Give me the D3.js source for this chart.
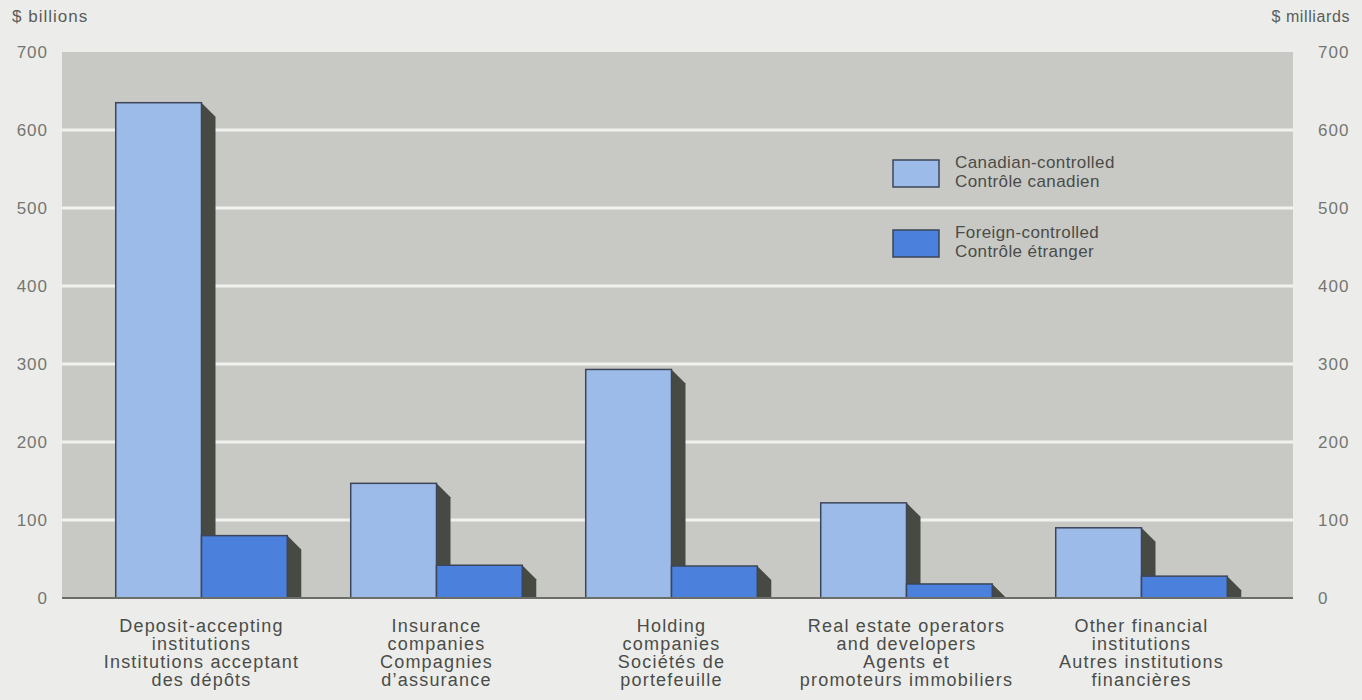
<!DOCTYPE html>
<html>
<head>
<meta charset="utf-8">
<script src="https://cdn.jsdelivr.net/npm/d3@7/dist/d3.min.js"></script>
<style>
  html, body { margin: 0; padding: 0; background: #ecedea; }
  svg { display: block; font-family: "Liberation Sans", Arial, sans-serif; }
</style>
</head>
<body>
<svg id="chart" width="1362" height="700"></svg>
<script>
// Assets by industry group, $ billions
const categories = [
  ["Deposit-accepting", "institutions", "Institutions acceptant", "des dépôts"],
  ["Insurance", "companies", "Compagnies", "d’assurance"],
  ["Holding", "companies", "Sociétés de", "portefeuille"],
  ["Real estate operators", "and developers", "Agents et", "promoteurs immobiliers"],
  ["Other financial", "institutions", "Autres institutions", "financières"]
];
const canadianControlled = [635, 147, 293, 122, 90];
const foreignControlled = [80, 42, 41, 18, 28];
const seriesNames = [
  ["Canadian-controlled", "Contrôle canadien"],
  ["Foreign-controlled", "Contrôle étranger"]
];
const yTicks = [0, 100, 200, 300, 400, 500, 600, 700];

const svg = d3.select("#chart");
const plot = { left: 62, right: 1293, top: 52, bottom: 598 };
const colors = { canadian: "#9dbbe8", foreign: "#4b80dc", side: "#474a42", edge: "#3d4658" };
const depth = 14;

const y = d3.scaleLinear().domain([0, 700]).range([plot.bottom, plot.top]);
const x0 = d3.scaleBand().domain(d3.range(categories.length)).range([84, 1259]).paddingInner(0.27).paddingOuter(0.135);
const x1 = d3.scaleBand().domain([0, 1]).range([0, x0.bandwidth()]);

// plot background
svg.append("rect")
  .attr("x", plot.left).attr("y", plot.top)
  .attr("width", plot.right - plot.left).attr("height", plot.bottom - plot.top)
  .attr("fill", "#c8c9c4");

// gridlines
svg.append("g").selectAll("line").data(yTicks.filter(d => d > 0 && d < 700)).join("line")
  .attr("x1", plot.left).attr("x2", plot.right)
  .attr("y1", d => y(d)).attr("y2", d => y(d))
  .attr("stroke", "#f1f1ef").attr("stroke-width", 3);

// left and right axes
const axisL = d3.axisLeft(y).tickValues(yTicks).tickSize(0).tickPadding(0);
const gL = svg.append("g").attr("transform", "translate(48,0)").call(axisL);
const axisR = d3.axisRight(y).tickValues(yTicks).tickSize(0).tickPadding(0);
const gR = svg.append("g").attr("transform", "translate(1318,0)").call(axisR);
[gL, gR].forEach(g => {
  g.select(".domain").remove();
  g.selectAll("text").attr("font-size", 17).attr("fill", "#747672")
    .attr("letter-spacing", 1)
    .attr("font-family", "Liberation Sans, Arial, sans-serif");
});

svg.append("text").attr("x", 12).attr("y", 22).attr("font-size", 17).attr("letter-spacing", 1)
  .attr("fill", "#5a5c58").text("$ billions");
svg.append("text").attr("x", 1350).attr("y", 22).attr("text-anchor", "end").attr("font-size", 16)
  .attr("letter-spacing", 0.6).attr("fill", "#5a5c58").text("$ milliards");

// bars with a shaded right-hand side face
const series = [canadianControlled, foreignControlled];
const fills = [colors.canadian, colors.foreign];
const bars = svg.append("g");
categories.forEach((c, i) => {
  series.forEach((vals, s) => {
    const bx = x0(i) + x1(s);
    const bw = x1.bandwidth();
    const top = y(vals[i]);
    const bottom = y(0);
    const xr = bx + bw;
    bars.append("path")
      .attr("d", `M${xr},${top} L${xr + depth},${Math.min(top + depth, bottom)} L${xr + depth},${bottom} L${xr},${bottom} Z`)
      .attr("fill", colors.side);
    bars.append("rect")
      .attr("x", bx).attr("y", top).attr("width", bw).attr("height", bottom - top)
      .attr("fill", fills[s]).attr("stroke", colors.edge).attr("stroke-width", 1.5);
  });
});

// baseline
svg.append("line").attr("x1", plot.left).attr("x2", plot.right)
  .attr("y1", y(0)).attr("y2", y(0)).attr("stroke", "#6b6d69").attr("stroke-width", 2);

// category labels
const labels = svg.append("g").attr("font-size", 18).attr("letter-spacing", 1.2)
  .attr("fill", "#4a4c49").attr("text-anchor", "middle");
categories.forEach((lines, i) => {
  const cx = x0(i) + x0.bandwidth() / 2;
  lines.forEach((t, k) => {
    labels.append("text").attr("x", cx).attr("y", 632 + k * 18).text(t);
  });
});

// legend
const legend = svg.append("g");
const legendY = [160, 230];
seriesNames.forEach((names, s) => {
  legend.append("rect")
    .attr("x", 893).attr("y", legendY[s]).attr("width", 46).attr("height", 27)
    .attr("fill", fills[s]).attr("stroke", colors.edge).attr("stroke-width", 1.5);
  names.forEach((t, k) => {
    legend.append("text").attr("x", 955).attr("y", legendY[s] + 8 + k * 19)
      .attr("font-size", 17).attr("letter-spacing", 0.4).attr("fill", "#4a4c49").text(t);
  });
});
</script>
</body>
</html>
